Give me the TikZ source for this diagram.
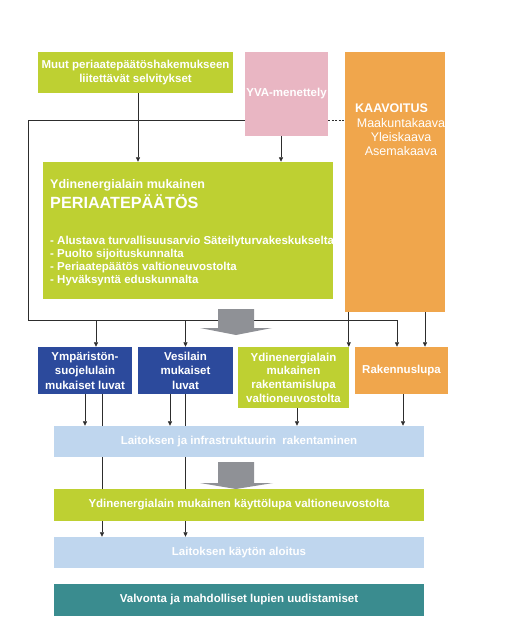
\documentclass[tikz,border=0pt]{standalone}
\usepackage{fontspec}
\setmainfont{Liberation Sans}
\usetikzlibrary{arrows.meta,positioning,calc,backgrounds}
\definecolor{lawgreen}{RGB}{190,208,50}
\definecolor{planorange}{RGB}{240,166,76}
\definecolor{yvapink}{RGB}{233,182,195}
\definecolor{permitblue}{RGB}{44,74,156}
\definecolor{stagelight}{RGB}{191,214,238}
\definecolor{superteal}{RGB}{58,140,143}
\definecolor{flowgray}{RGB}{143,145,150}
\definecolor{linegray}{RGB}{45,45,45}
\newcommand{\boxfont}{\fontsize{11.5}{14.5}\selectfont\bfseries}

\begin{document}
\begin{tikzpicture}[x=1pt,y=-1pt,
  box/.style={inner sep=1pt, text=white, font=\boxfont, align=center},
  plain/.style={inner sep=0pt, text=white},
  arr/.style={-{Triangle[length=4.5pt,width=4pt]}, linegray, line width=0.7pt},
  wire/.style={linegray, line width=0.7pt}]
\useasboundingbox (0,0) rectangle (509,636);

% TOP: inputs to the decision in principle
\node[box, fill=lawgreen, minimum width=195pt, minimum height=41pt] (muut) at (135.5,72.5) {Muut periaatepäätöshakemukseen\\liitettävät selvitykset};
\node[box, fill=yvapink, minimum width=83pt, minimum height=84pt] (yva) at (286.5,94) {YVA-menettely};
\node[fill=planorange, minimum width=100pt, minimum height=260pt, inner sep=0pt] (kaav) at (395,182) {};
\node[plain, anchor=base west, font=\fontsize{12.5}{14}\selectfont\bfseries] (kaavtitle) at (355,113) {KAAVOITUS};
\foreach \txt [count=\i] in {Maakuntakaava,Yleiskaava,Asemakaava}
  \node[plain, anchor=base, font=\fontsize{12.5}{14}\selectfont] (kaavitem\i) at (401,114+14*\i) {\txt};

% MIDDLE: decision in principle
\node[fill=lawgreen, minimum width=290pt, minimum height=137pt, inner sep=0pt] (peri) at (188,230.5) {};
\node[plain, anchor=base west, font=\fontsize{12.5}{15}\selectfont\bfseries] (perihead) at (50,189) {Ydinenergialain mukainen};
\node[plain, anchor=base west, font=\fontsize{16.2}{19}\selectfont\bfseries] (perititle) at (50,208) {PERIAATEPÄÄTÖS};
\foreach \txt [count=\i] in {- Alustava turvallisuusarvio Säteilyturvakeskukselta,- Puolto sijoituskunnalta,- Periaatepäätös valtioneuvostolta,- Hyväksyntä eduskunnalta}
  \node[plain, anchor=base west, font=\boxfont] (periitem\i) at (50,244+13*\i-13) {\txt};

% PERMITS row
\node[box, fill=permitblue, minimum width=94pt, minimum height=47pt] (ymp) at (85,370.5) {Ympäristön-\\suojelulain\\mukaiset luvat};
\node[box, fill=permitblue, minimum width=95pt, minimum height=47pt] (vesi) at (185.5,370.5) {Vesilain\\mukaiset\\luvat};
\node[box, fill=lawgreen, minimum width=111pt, minimum height=61pt, font=\fontsize{11.5}{13.7}\selectfont\bfseries] (rak) at (293.5,377.5) {Ydinenergialain\\mukainen\\rakentamislupa\\valtioneuvostolta};
\node[box, fill=planorange, minimum width=93pt, minimum height=47pt] (rakennus) at (401.5,370.5) {Rakennuslupa};

% BOTTOM: stages
\node[box, fill=stagelight, minimum width=370pt, minimum height=31pt] (laitos) at (239,441.5) {Laitoksen ja infrastruktuurin\ \ rakentaminen};
\node[box, fill=lawgreen, minimum width=370pt, minimum height=32pt] (kaytto) at (239,505) {Ydinenergialain mukainen käyttölupa valtioneuvostolta};
\node[box, fill=stagelight, minimum width=370pt, minimum height=31pt] (aloitus) at (239,552.5) {Laitoksen käytön aloitus};
\node[box, fill=superteal, minimum width=370pt, minimum height=32pt] (valvonta) at (239,600) {Valvonta ja mahdolliset lupien uudistamiset};

% connectors
\coordinate (wireTL) at (28,120);
\coordinate (wireBL) at (28,320);
\coordinate (wireBR) at (397,320);
\draw[wire] (yva.west |- wireTL) -- (wireTL) -- (wireBL) -- (wireBR);
\draw[wire, dash pattern=on 2pt off 1.5pt] (yva.east |- wireTL) -- (kaav.west |- wireTL);
\draw[arr] ([xshift=2.5pt]muut.south) -- ([xshift=2.5pt]muut.south |- peri.north);
\draw[arr] ([xshift=-5.5pt]yva.south) -- ([xshift=-5.5pt]yva.south |- peri.north);
\draw[arr] ([xshift=11pt]ymp.north |- wireBL) -- ([xshift=11pt]ymp.north);
\draw[arr] (vesi.north |- wireBL) -- (vesi.north);
\draw[arr] (wireBR) -- (wireBR |- rakennus.north);
\draw[arr] ([xshift=4pt]kaav.south west) -- ([xshift=4pt]kaav.south west |- rak.north);
\draw[arr] ([xshift=30pt]kaav.south) -- ([xshift=30pt]kaav.south |- rakennus.north);
\draw[arr] (ymp.south) -- (ymp.south |- laitos.north);
\draw[arr] ([xshift=-15.5pt]vesi.south) -- ([xshift=-15.5pt]vesi.south |- laitos.north);
\draw[arr] ([xshift=3.5pt]rak.south) -- ([xshift=3.5pt]rak.south |- laitos.north);
\draw[arr] ([xshift=1.5pt]rakennus.south) -- ([xshift=1.5pt]rakennus.south |- laitos.north);
\begin{scope}[on background layer]
  \draw[arr] ([xshift=17pt]ymp.south) -- ([xshift=17pt]ymp.south |- aloitus.north);
  \draw[arr] (vesi.south) -- (vesi.south |- aloitus.north);
\end{scope}

% block arrows
\fill[flowgray] (218,309) -- (254,309) -- (254,328) -- (272,328) -- (236,335) -- (200,328) -- (218,328) -- cycle;
\fill[flowgray] (218,462) -- (254,462) -- (254,483) -- (273,483) -- (236,489) -- (200,483) -- (218,483) -- cycle;
\end{tikzpicture}
\end{document}
